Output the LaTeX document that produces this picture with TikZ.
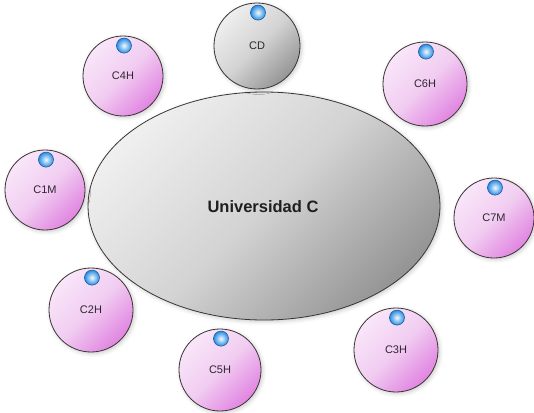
\documentclass[tikz,border=0pt]{standalone}
\usepackage{fontspec}
\setmainfont{Liberation Sans}
\usetikzlibrary{shapes.geometric,shadows.blur}

\definecolor{pinkhi}{HTML}{F9E6F9}
\definecolor{pinkmid}{HTML}{F1CDF1}
\definecolor{pinklo}{HTML}{E184E1}
\definecolor{grayhi}{HTML}{EFEFEF}
\definecolor{graymid}{HTML}{D3D3D3}
\definecolor{graylo}{HTML}{959595}
\definecolor{edgecol}{HTML}{3C3434}
\definecolor{dothi}{HTML}{F0FAFF}
\definecolor{dotlo}{HTML}{2A8CE0}
\definecolor{dotedge}{HTML}{1A5FA8}
\definecolor{labeltext}{HTML}{2E2630}

\tikzset{
  softshadow/.style={blur shadow={shadow xshift=1.5pt, shadow yshift=-1.5pt,
      shadow blur radius=4pt, shadow opacity=22}},
  bubble/.style={circle, inner sep=0pt, draw=edgecol, line width=0.8pt,
      softshadow, font=\fontsize{11}{13}\selectfont, text=labeltext},
  member/.style={bubble, top color=pinkhi, bottom color=pinklo,
      middle color=pinkmid, shading angle=45},
  director/.style={bubble, top color=grayhi, bottom color=graylo,
      middle color=graymid, shading angle=45},
  campus/.style={ellipse, inner sep=0pt, draw=edgecol, line width=0.8pt,
      softshadow, top color=grayhi, bottom color=graylo, middle color=graymid,
      shading angle=45, minimum width=352pt, minimum height=228pt},
  campustext/.style={font=\fontsize{16.5}{19}\selectfont\bfseries, text=black!88},
  marker/.style={circle, inner sep=0pt, minimum size=15pt, draw=dotedge,
      line width=0.6pt, inner color=dothi, outer color=dotlo}
}

\begin{document}
\begin{tikzpicture}[x=1pt, y=-1pt]
  \useasboundingbox (0,0) rectangle (534,412);

  % central body
  \node[campus] (uc) at (264,206) {};
  \node[campustext] (uclabel) at (263,207) {Universidad C};

  % surrounding members
  \node[director, minimum size=86pt] (cd)  at (257,46)  {CD};
  \node[member,   minimum size=80pt] (c4h) at (123,76)  {C4H};
  \node[member,   minimum size=84pt] (c6h) at (425,84)  {C6H};
  \node[member,   minimum size=80pt] (c1m) at (45,190)  {C1M};
  \node[member,   minimum size=80pt] (c7m) at (494,218) {C7M};
  \node[member,   minimum size=84pt] (c2h) at (91,310)  {C2H};
  \node[member,   minimum size=82pt] (c5h) at (220,370) {C5H};
  \node[member,   minimum size=84pt] (c3h) at (396,350) {C3H};

  % status markers near the top of each member
  \foreach \n in {cd,c4h,c6h,c1m,c7m,c2h,c5h,c3h}
    \node[marker] (dot-\n) at ([shift={(1,10)}]\n.north) {};
\end{tikzpicture}
\end{document}
